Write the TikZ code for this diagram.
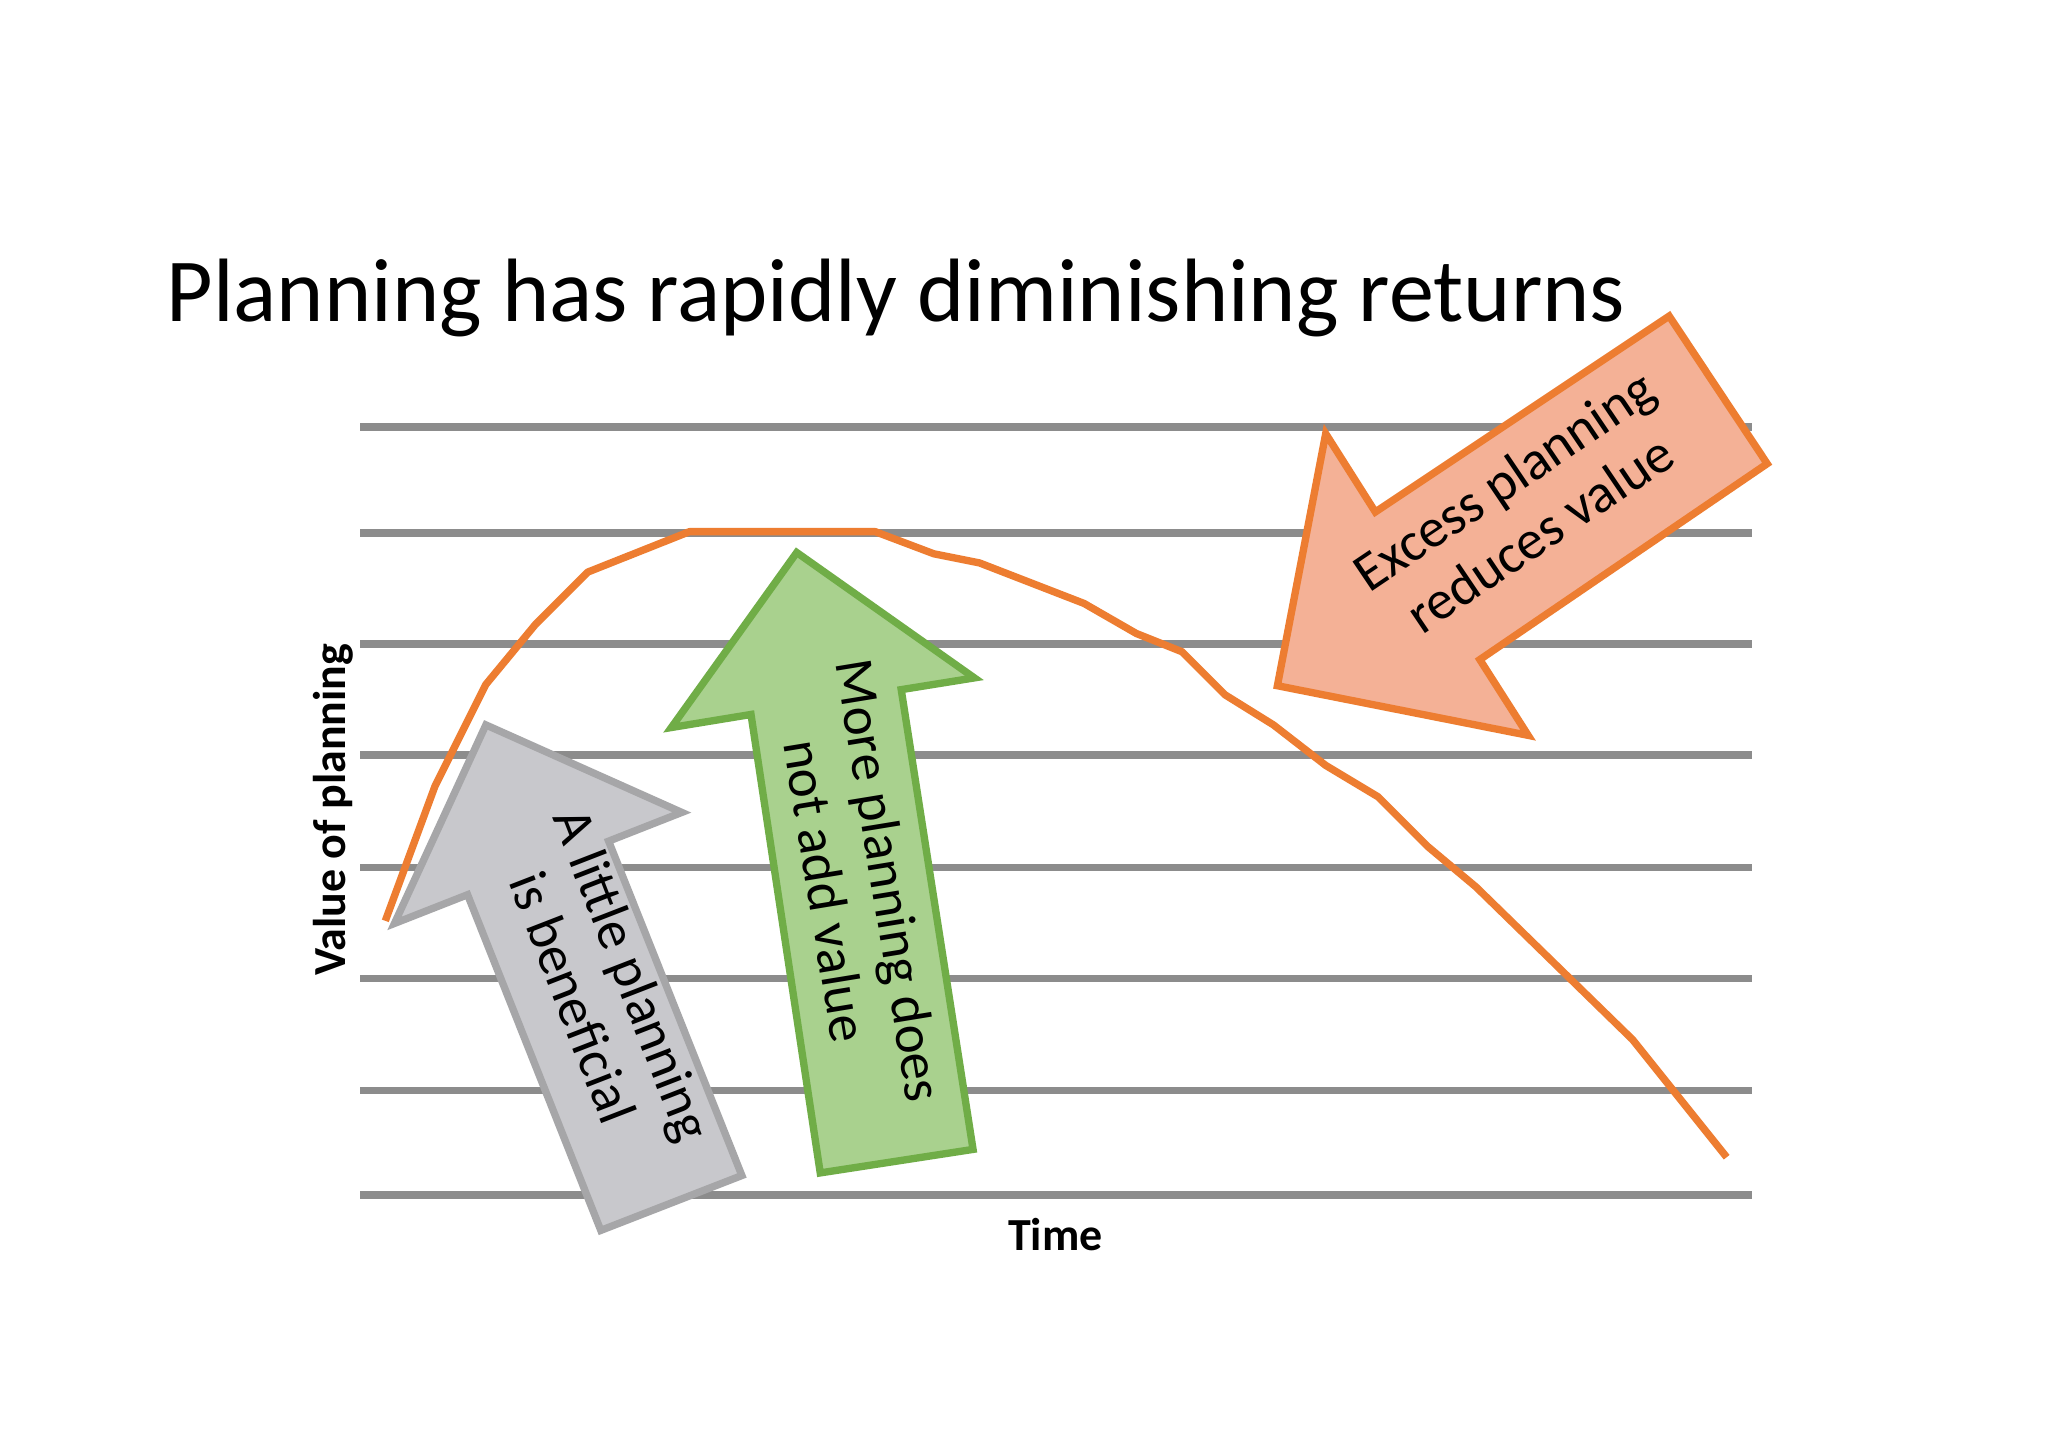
\documentclass[tikz,border=0pt]{standalone}
\usepackage{fontspec}
\setmainfont{Carlito}
\begin{document}
\begin{tikzpicture}[x=0.01cm,y=-0.01cm,
  grid/.style={draw=gray!85!black!70,line width=1.6pt},
  arr/.style={line width=1.6pt,line join=miter},
  lbl/.style={align=center,font=\fontsize{12}{14}\selectfont,inner sep=0pt}]
\useasboundingbox (0,0) rectangle (1568,1108.6);
\fill[white] (0,0) rectangle (1568,1108.6);
\foreach \y in {327,408,493,578,664,749,835,915}
  \draw[grid,draw=black!45] (276,\y) -- (1341,\y);
\draw[line width=1.6pt,color={rgb,255:red,237;green,125;blue,49},line join=round]
 (295,705)--(333,602)--(372,524)--(410,478)--(450,438)--(528,407)--(670,407)--(715,424)--(750,431)--(830,462)--(870,485)--(905,499)--(938,532)--(975,555)--(1015,586)--(1055,610)--(1093,648)--(1130,679)--(1250,796)--(1322,886);
% gray arrow
\draw[arr,draw={rgb,255:red,166;green,166;blue,168},fill={rgb,255:red,200;green,200;blue,204}]
 (372,555)--(522,622)--(466,644)--(568,900)--(460,942)--(358,685)--(302,707)--cycle;
\node[lbl,rotate=-68.8] (g) at (462,755) {A little planning\\is beneficial};
% green arrow
\draw[arr,draw={rgb,255:red,112;green,173;blue,71},fill={rgb,255:red,169;green,209;blue,142}]
 (610,423)--(746,519)--(690,528)--(745,880)--(628,898)--(575,547)--(514,557)--cycle;
\node[lbl,rotate=-80.7] (m) at (657,678) {More planning does\\not add value};
% orange arrow
\draw[arr,draw={rgb,255:red,237;green,125;blue,49},fill={rgb,255:red,244;green,177;blue,150}]
 (978,525)--(1015,332)--(1053,392)--(1278,242)--(1353,355)--(1133,505)--(1170,563)--cycle;
\node[lbl,rotate=34] (e) at (1165,388) {Excess planning\\reduces value};
\node[font=\bfseries\fontsize{10}{11}\selectfont,rotate=90] (v) at (255,620) {Value of planning};
\node[font=\bfseries\fontsize{10}{11}\selectfont] (t) at (808,945) {Time};
\node[font=\fontsize{19.6}{22}\selectfont] (title) at (686,228) {Planning has rapidly diminishing returns};
\end{tikzpicture}
\end{document}
